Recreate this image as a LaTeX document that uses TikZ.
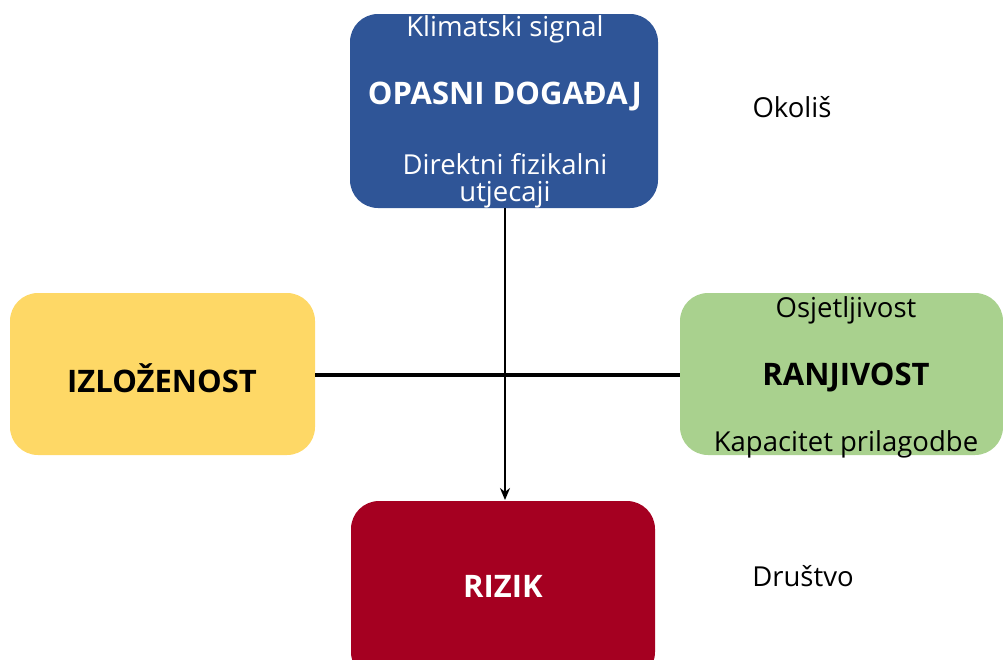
\documentclass[tikz,border=0pt]{standalone}
\usepackage{fontspec}
\setmainfont{Open Sans}
\usetikzlibrary{arrows.meta}
\definecolor{hazblue}{RGB}{47,85,151}
\definecolor{expyellow}{RGB}{254,216,102}
\definecolor{vulgreen}{RGB}{169,209,142}
\definecolor{riskred}{RGB}{165,0,33}
\tikzset{
  box/.style={draw=none, rounded corners=28pt},
  lbl/.style={font=\fontsize{27.5}{32}\selectfont, inner sep=0pt, anchor=center},
  blbl/.style={font=\fontsize{31}{35}\selectfont\bfseries, inner sep=0pt, anchor=center},
  conn/.style={line width=4pt},
  arr/.style={line width=2pt, -{Stealth[length=12pt,width=10pt]}}
}
\begin{document}
\begin{tikzpicture}[x=1pt,y=-1pt]
\useasboundingbox (0,0) rectangle (1003,659);
% boxes
\path[box, fill=hazblue] (350,14) rectangle (658,208);
\path[box, fill=expyellow] (10,293) rectangle (315,455);
\path[box, fill=vulgreen] (680,293) rectangle (1003,455);
\path[box, fill=riskred] (351,501) rectangle (655,680);
% anchor coordinates
\coordinate (hazB) at (505,208);
\coordinate (expR) at (315,375);
\coordinate (vulL) at (680,375);
\coordinate (riskT) at (505,500);
% connectors
\draw[conn] (expR) -- (vulL);
\draw[arr] (hazB) -- (riskT);
% texts
\node[lbl, text=white] (t1) at (505,29) {Klimatski signal};
\node[blbl, text=white] (t2) at (505,97) {OPASNI DOGAĐAJ};
\node[lbl, text=white] (t3) at (505,164) {Direktni fizikalni};
\node[lbl, text=white] (t4) at (505,195) {utjecaji};
\node[blbl] (t5) at (162,378) {IZLOŽENOST};
\node[lbl] (t6) at (846,310) {Osjetljivost};
\node[blbl] (t7) at (846,378) {RANJIVOST};
\node[lbl] (t8) at (846,444) {Kapacitet prilagodbe};
\node[blbl, text=white] (t9) at (503,586) {RIZIK};
\node[lbl] (t10) at (792,107) {Okoliš};
\node[lbl] (t11) at (803,576) {Društvo};
\end{tikzpicture}
\end{document}
